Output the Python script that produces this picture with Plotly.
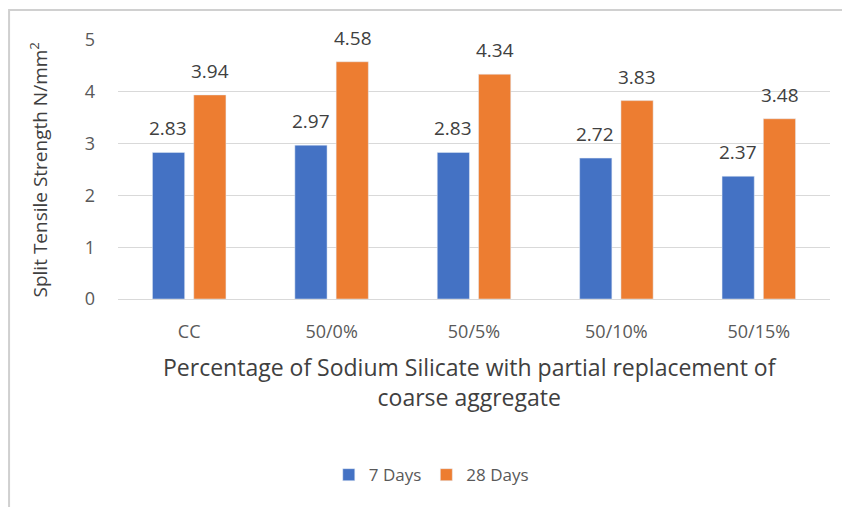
import plotly.graph_objects as go

categories = ["CC", "50/0%", "50/5%", "50/10%", "50/15%"]
days_7 = [2.83, 2.97, 2.83, 2.72, 2.37]
days_28 = [3.94, 4.58, 4.34, 3.83, 3.48]
y_ticks = [0, 1, 2, 3, 4, 5]

font_family = "'Open Sans', sans-serif"
text_color = "#595959"
label_color = "#404040"

fig = go.Figure()

fig.add_trace(go.Bar(
    x=categories,
    y=days_7,
    name="7 Days",
    marker_color="#4472C4"
))

fig.add_trace(go.Bar(
    x=categories,
    y=days_28,
    name="28 Days",
    marker_color="#ED7D31"
))

# data labels sit a little above the bar ends, like the Excel original
labels = []
for series, shift in [(days_7, -21), (days_28, 21)]:
    for cat, val in zip(categories, series):
        labels.append(dict(
            x=cat, y=val,
            xref="x", yref="y",
            text=f"{val:.2f}",
            showarrow=False,
            xshift=shift, yshift=24,
            yanchor="middle",
            font=dict(size=19, color=label_color)
        ))

# page body adds an 8px offset, so margins are shifted by that much
fig.update_layout(
    width=850,
    height=507,
    barmode="group",
    bargap=0.42,
    bargroupgap=0.22,
    paper_bgcolor="white",
    plot_bgcolor="white",
    font=dict(family=font_family, size=18, color=text_color),
    margin=dict(l=110, r=28, t=32, b=216),
    showlegend=True,
    legend=dict(
        orientation="h",
        x=0.44, xanchor="center",
        y=-0.68, yanchor="middle",
        font=dict(size=17, color=text_color),
        itemwidth=30,
        traceorder="normal"
    ),
    xaxis=dict(
        showgrid=False,
        showline=True,
        linecolor="#D9D9D9",
        ticks="",
        ticklabelstandoff=16,
        tickfont=dict(size=18, color=text_color)
    ),
    yaxis=dict(
        range=[0, 5],
        tickvals=y_ticks,
        showgrid=True,
        gridcolor="#D9D9D9",
        zeroline=False,
        showline=False,
        ticks="",
        ticklabelstandoff=22,
        tickfont=dict(size=18, color=text_color)
    ),
    shapes=[dict(
        type="rect",
        xref="paper", yref="paper",
        x0=-0.153, x1=1.5, y0=-2, y1=1.116,
        line=dict(color="#D0D0D0", width=2),
        fillcolor="rgba(0,0,0,0)",
        layer="below"
    )],
    annotations=labels + [
        dict(
            text="Split Tensile Strength N/mm<sup>2</sup>",
            xref="paper", yref="paper",
            x=-0.111, y=0.5,
            xanchor="center", yanchor="middle",
            textangle=-90,
            showarrow=False,
            font=dict(size=19, color=label_color)
        ),
        dict(
            text="Percentage of Sodium Silicate with partial replacement of<br>coarse aggregate",
            xref="paper", yref="paper",
            x=0.495, y=-0.32,
            xanchor="center", yanchor="middle",
            showarrow=False,
            font=dict(size=23, color=label_color)
        )
    ]
)

fig.write_html("out.html")
